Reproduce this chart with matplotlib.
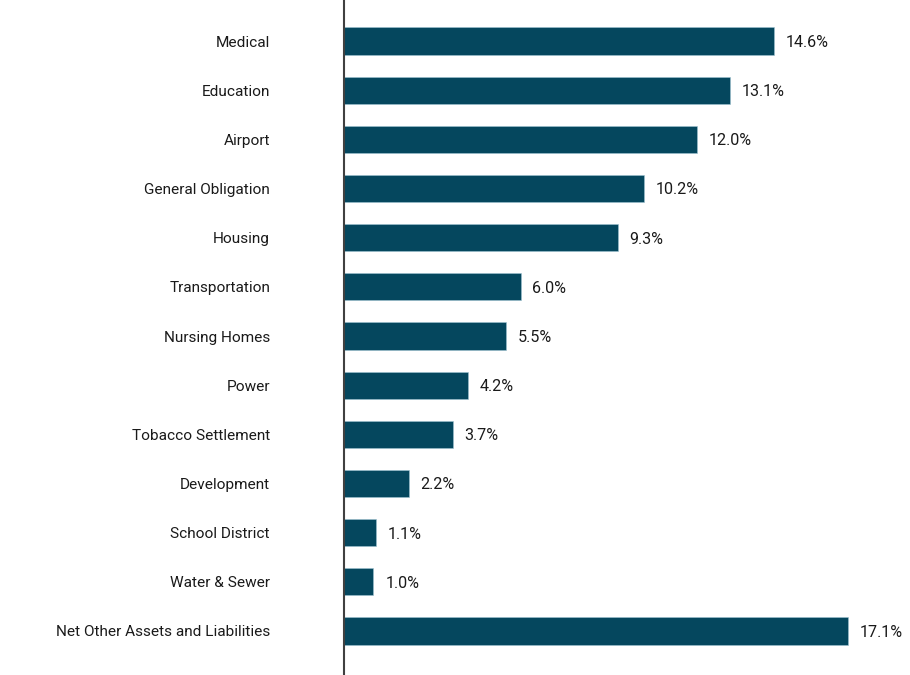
import matplotlib
matplotlib.use("Agg")
import matplotlib.pyplot as plt
import numpy as np

categories = ["Medical", "Education", "Airport", "General Obligation", "Housing",
              "Transportation", "Nursing Homes", "Power", "Tobacco Settlement",
              "Development", "School District", "Water & Sewer",
              "Net Other Assets and Liabilities"]
values = [14.6, 13.1, 12.0, 10.2, 9.3, 6.0, 5.5, 4.2, 3.7, 2.2, 1.1, 1.0, 17.1]

# narrow face if present, otherwise Roboto (closest width)
plt.rcParams['font.family'] = ['Liberation Sans Narrow', 'Roboto', 'DejaVu Sans']

bar_color = "#05475e"
text_color = "#1a1a1a"

fig = plt.figure(figsize=(9.1, 6.75), dpi=100)
ax = fig.add_axes([344 / 910, 0, 1 - 344 / 910, 1])

y = np.arange(len(categories))
ax.barh(y, values, height=0.55, color=bar_color, edgecolor="#9fc3d1", linewidth=0.4)

for yi, v in zip(y, values):
    ax.text(v + 0.4, yi + 0.03, "%.1f%%" % v, va="center", ha="left",
            fontsize=11.6, color=text_color)

ax.set_xlim(0, 566 / 29.45)
ax.set_ylim(len(categories) - 1 + 0.895, -0.834)

ax.set_yticks(y)
ax.set_yticklabels(categories, fontsize=11.1, color=text_color)
ax.tick_params(axis="y", length=0, pad=74 * 0.72)
ax.set_xticks([])

for s in ["top", "right", "bottom"]:
    ax.spines[s].set_visible(False)
ax.spines["left"].set_color("#404040")
ax.spines["left"].set_linewidth(1.5)

plt.savefig("out.png", dpi=100)
